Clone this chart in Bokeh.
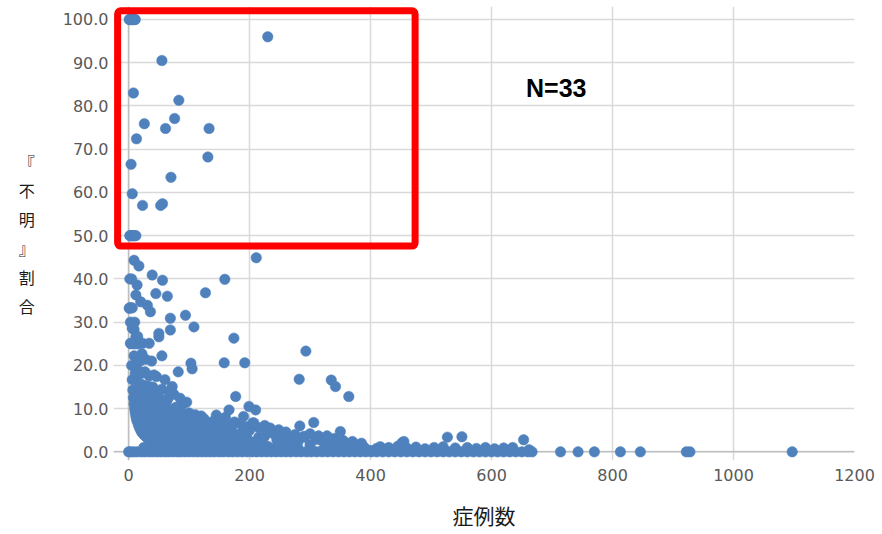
from bokeh.plotting import figure
from bokeh.models import Label, BoxAnnotation, FixedTicker, NumeralTickFormatter, Span
from bokeh.embed import file_html
from bokeh.resources import INLINE

# ---- data (症例数, 『不明』割合 %) ----
# points inside the red box (>= 50 %)
high_pts = [(1, 100), (2, 100), (3, 100), (4, 100), (5, 100), (6, 100), (7, 100), (8, 100), (9, 100), (11, 100),
            (230, 96), (55, 90.5), (8, 83), (83, 81.3), (26, 75.9), (76, 77.1), (61, 74.8), (133, 74.8),
            (13, 72.4), (131, 68.2), (4, 66.5), (70, 63.5), (6, 59.7), (23, 57), (53, 57), (56, 57.4),
            (2, 50), (3, 50), (4, 50), (6, 50), (8, 50), (10, 50), (12, 50)]

# scattered points between 4 % and 50 %
mid_pts = [(9, 44.3), (17, 43), (39, 40.9), (56, 39.7), (159, 39.9), (211, 44.9), (14, 38.6), (45, 36.6),
           (64, 36), (127, 36.8), (12, 36.3), (1, 33.2), (3, 33.3), (20, 34.7), (31, 33.9), (36, 32.4),
           (69, 30.9), (94, 31.6), (108, 28.9), (69, 28.2), (9, 28.3), (6, 28.6), (12, 26.6), (3, 25.1),
           (23, 25.1), (34, 25.1), (50, 26.6), (50, 27.4), (174, 26.3), (293, 23.3), (55, 22.2), (103, 20.5),
           (105, 19.2), (158, 20.6), (192, 20.6), (82, 18.5), (282, 16.8), (335, 16.6), (342, 15.1),
           (364, 12.8), (72, 15.1), (42, 17.8), (67, 13.9), (177, 12.8), (166, 9.7), (199, 10.5), (210, 9.7),
           (96, 11.5), (283, 6), (306, 6.8), (350, 4.7), (2, 40), (5, 40), (2, 33.3), (6, 33.3), (3, 30),
           (7, 28.6), (10, 30), (15, 26.7)]

# dense cloud near the origin
low_pts = [(4, 25), (5, 20), (6, 16.7), (7, 14.3), (8, 12.5), (9, 11.1), (10, 10), (11, 9.1), (12, 8.3),
           (13, 7.7), (14, 7.1), (16, 6.3), (18, 5.6), (20, 5), (22, 4.5), (25, 4), (28, 3.6), (31, 3.2),
           (35, 2.9), (40, 2.5), (45, 2.2), (50, 2), (60, 1.7), (70, 1.4), (85, 1.2), (100, 1), (120, 0.8),
           (150, 0.7), (180, 0.6), (220, 0.5), (260, 0.4), (320, 0.3), (400, 0.3),
           (8, 25), (9, 22.2), (10, 20), (11, 18.2), (12, 16.7), (14, 14.3), (16, 12.5), (18, 11.1),
           (20, 10), (22, 9.1), (25, 8), (28, 7.1), (32, 6.3), (36, 5.6), (40, 5), (45, 4.4), (50, 4),
           (57, 3.5), (66, 3), (80, 2.5), (100, 2), (130, 1.5), (160, 1.3), (200, 1),
           (12, 25), (14, 21.4), (16, 18.8), (19, 15.8), (22, 13.6), (25, 12), (30, 10), (35, 8.6),
           (40, 7.5), (46, 6.5), (55, 5.5), (65, 4.6), (75, 4), (90, 3.3), (110, 2.7), (140, 2.1),
           (180, 1.7), (230, 1.3),
           (16, 25), (19, 21), (22, 18.2), (26, 15.4), (30, 13.3), (35, 11.4), (42, 9.5), (50, 8),
           (58, 6.9), (68, 5.9), (80, 5), (95, 4.2), (115, 3.5), (140, 2.9), (170, 2.4), (210, 1.9),
           (260, 1.5), (330, 1.2),
           (22, 22.7), (27, 18.5), (33, 15.2), (40, 12.5), (48, 10.4), (57, 8.8), (66, 7.6), (78, 6.4),
           (92, 5.4), (110, 4.5), (130, 3.8), (160, 3.1), (200, 2.5), (250, 2), (300, 1.7),
           (28, 21.4), (34, 17.6), (40, 15), (47, 12.8), (55, 10.9), (63, 9.5), (75, 8), (88, 6.8),
           (105, 5.7), (125, 4.8), (150, 4), (180, 3.3), (220, 2.7), (270, 2.2), (330, 1.8), (380, 1.6),
           (38, 21), (46, 17.4), (55, 14.5), (65, 12.3), (78, 10.3), (92, 8.7), (110, 7.3), (130, 6.2),
           (155, 5.2), (185, 4.3), (225, 3.6), (270, 3), (320, 2.5), (370, 2.2),
           (60, 16.7), (75, 13.3), (90, 11.1), (120, 8.3), (140, 7.1), (170, 5.9), (200, 5), (240, 4.2),
           (290, 3.4), (340, 2.9),
           (105, 7.8), (115, 6.5), (125, 7.6), (135, 6), (145, 5.5), (150, 7), (160, 6.2), (170, 5.3),
           (175, 6.9), (185, 6.5), (195, 5.8), (205, 6.7), (215, 5.6), (225, 6.1), (234, 5.5), (248, 5.1),
           (207, 6.7), (260, 4.6), (275, 4), (290, 3.6), (300, 4.2), (314, 3.7), (328, 3.7), (340, 3.1),
           (355, 2.6), (370, 2.4), (385, 2),
           (410, 0.8), (416, 1.2), (430, 1), (445, 1.3), (452, 2.1), (455, 2.4), (460, 0.9), (475, 1.1),
           (490, 0.7), (505, 1), (520, 1.2), (527, 3.4), (540, 0.9), (551, 3.5), (560, 1), (575, 0.8),
           (590, 1), (605, 0.7), (620, 0.9), (635, 1), (653, 2.8), (662, 0.5)]

# extra cases filling the solid part of the cloud
fill_pts = [(25, 1), (35, 1.2), (45, 1), (55, 1.1), (65, 0.9), (75, 1), (90, 0.8), (110, 1), (125, 1.2),
            (140, 0.9), (165, 1), (190, 0.9), (240, 0.8), (280, 0.9), (300, 1), (350, 1.1), (360, 0.8),
            (390, 1),
            (35, 3.2), (45, 3.3), (55, 3), (62, 2.6), (72, 2.2), (85, 2.8), (95, 3), (105, 2.4), (120, 2.2),
            (135, 3.4), (150, 2.5), (165, 2.2), (190, 3.2), (205, 2.1), (215, 3.4), (245, 2.8), (280, 2.4),
            (310, 2.9), (345, 2),
            (30, 5.5), (45, 5.5), (52, 6.2), (62, 5), (70, 4.5), (85, 4), (100, 4.7), (120, 5.2), (140, 4.4),
            (165, 4.2), (195, 4), (230, 4.5), (255, 3.6),
            (32, 8.2), (38, 9.8), (45, 8), (52, 9.3), (60, 8.5), (70, 9.2), (70, 7), (82, 8), (85, 9.5),
            (98, 6.5), (100, 9), (110, 8.6), (118, 6.2), (128, 5.5), (160, 8), (145, 8.5), (190, 8.2),
            (25, 14), (28, 12.5), (35, 13.2), (45, 14), (50, 12.5), (58, 12), (62, 11.2), (85, 12.4)]

# cases with 0 % unknown
zero_x = [0, 3, 8, 14, 21, 27, 34, 40, 47, 53, 60, 66, 73, 80, 86, 93, 100, 107, 114, 121, 128, 135, 142,
          150, 157, 165, 172, 180, 188, 196, 204, 212, 220, 228, 236, 244, 252, 260, 268, 277, 285, 294,
          302, 311, 320, 329, 338, 347, 356, 365, 374, 383, 392, 401, 410, 420, 430, 440, 450, 460, 470,
          480, 490, 500, 510, 520, 530, 540, 550, 560, 570, 580, 590, 600, 610, 620, 630, 640, 650, 660,
          667, 714, 743, 770, 813, 846, 922, 928, 1097]
zero_y = [0.0] * len(zero_x)

x_ticks = [0, 200, 400, 600, 800, 1000, 1200]
y_ticks = [0, 10, 20, 30, 40, 50, 60, 70, 80, 90, 100]

y_title = "『\n不\n明\n』\n割\n合"
x_title = "症例数"
note_text = "N=33"

BLUE = "#4F81BD"
GRID = "#d9d9d9"
TICK_FONT = "DejaVu Sans"
CJK = "Noto Sans CJK JP"

p = figure(width=882, height=534, frame_width=741, frame_height=454,
           min_border_left=113, min_border_right=28, min_border_top=6, min_border_bottom=74,
           x_range=(-25, 1200), y_range=(-2, 103),
           output_backend="svg", toolbar_location=None,
           background_fill_color="white", border_fill_color="white")
p.outline_line_color = None

p.xaxis.ticker = FixedTicker(ticks=x_ticks)
p.yaxis.ticker = FixedTicker(ticks=y_ticks)
p.xgrid.ticker = FixedTicker(ticks=x_ticks)
p.ygrid.ticker = FixedTicker(ticks=y_ticks)
p.yaxis.formatter = NumeralTickFormatter(format="0.0")
for g in (p.xgrid, p.ygrid):
    g.grid_line_color = GRID
    g.grid_line_width = 1.5

for ax in (p.xaxis, p.yaxis):
    ax.axis_line_color = None
    ax.major_tick_line_color = None
    ax.minor_tick_line_color = None
    ax.major_tick_out = 0
    ax.major_tick_in = 0
    ax.major_label_text_font = TICK_FONT
    ax.major_label_text_font_size = "16px"
    ax.major_label_text_color = "#595959"
p.yaxis.major_label_standoff = 5
p.xaxis.major_label_standoff = 8

p.xaxis.axis_label = x_title
p.xaxis.axis_label_text_font = CJK
p.xaxis.axis_label_text_font_size = "21px"
p.xaxis.axis_label_text_font_style = "normal"
p.xaxis.axis_label_text_color = "#1a1a1a"
p.xaxis.axis_label_standoff = 16

p.yaxis.axis_label = y_title
p.yaxis.axis_label_orientation = "horizontal"
p.yaxis.axis_label_text_font = CJK
p.yaxis.axis_label_text_font_size = "16px"
p.yaxis.axis_label_text_font_style = "normal"
p.yaxis.axis_label_text_color = "#1a1a1a"
p.yaxis.axis_label_standoff = 25

p.add_layout(Span(location=0, dimension="height", line_color="#bfbfbf", line_width=1.5, level="underlay"))
p.add_layout(Span(location=0, dimension="width", line_color="#bfbfbf", line_width=1.5, level="underlay"))

for pts in (fill_pts, low_pts, mid_pts, high_pts):
    p.scatter([a for a, b in pts], [b for a, b in pts], size=10.5,
              fill_color=BLUE, line_color=BLUE, line_width=0.5)
p.scatter(zero_x, zero_y, size=10.5, fill_color=BLUE, line_color=BLUE, line_width=0.5)

# red highlight box
p.add_layout(BoxAnnotation(left=-18.2, right=473.6, bottom=47.6, top=102.0,
                           fill_alpha=0, line_alpha=1.0, line_color="#FF0000", line_width=7,
                           border_radius=3))

p.add_layout(Label(x=707, y=84.2, text=note_text, text_font="Liberation Sans", text_font_style="bold",
                   text_font_size="25px", text_color="#000000", text_align="center", text_baseline="middle"))

open("out.html", "w").write(file_html(p, INLINE))
